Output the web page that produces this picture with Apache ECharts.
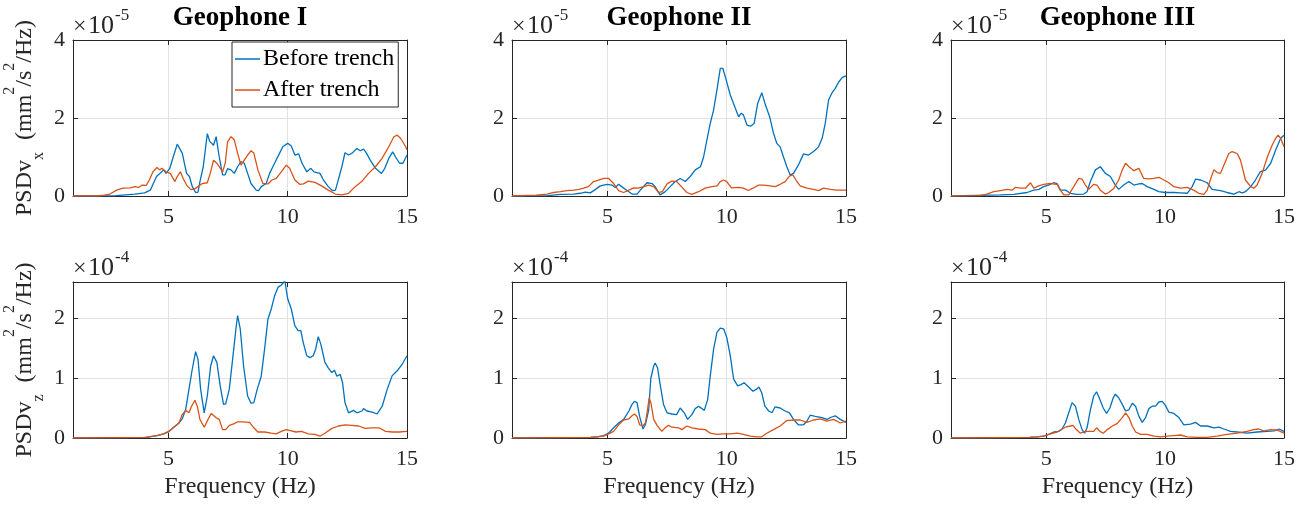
<!DOCTYPE html>
<html><head><meta charset="utf-8">
<script src="https://cdn.jsdelivr.net/npm/echarts@6/dist/echarts.min.js"></script>
<style>html,body{margin:0;padding:0;background:#fff}#c{width:1302px;height:507px}</style>
</head><body><div id="c"></div>
<script>
// ---------------- DATA ----------------
const titles = ['Geophone I', 'Geophone II', 'Geophone III'];
const seriesNames = ['Before trench', 'After trench'];
const xTicks = [5, 10, 15];
const xRange = [1, 15];
const yTicksTop = [0, 2, 4];
const yTicksBottom = [0, 1, 2];
const yMaxTop = 4;
const yMaxBottom = 2.6;
const exponentTop = '-5';
const exponentBottom = '-4';
const xLabel = 'Frequency (Hz)';

// PSDv_x (x 1e-5), [frequency Hz, value]
const g1xBefore = [[1,0],[2,0],[2.8,0.01],[3.2,0.03],[3.6,0.05],[4.0,0.08],[4.24,0.15],[4.5,0.5],[4.8,0.67],[4.9,0.58],[5.05,0.7],[5.2,1.0],[5.37,1.33],[5.45,1.32],[5.58,1.1],[5.76,0.58],[5.88,0.5],[6.0,0.24],[6.14,0.09],[6.24,0.1],[6.32,0.37],[6.46,0.75],[6.63,1.6],[6.73,1.4],[6.89,1.3],[7.0,1.52],[7.13,1.0],[7.27,0.54],[7.37,0.54],[7.48,0.7],[7.62,0.67],[7.76,0.58],[7.9,0.75],[8.04,0.88],[8.18,0.84],[8.32,0.58],[8.46,0.32],[8.68,0.15],[8.78,0.14],[8.89,0.24],[9.1,0.32],[9.24,0.58],[9.45,0.84],[9.66,1.1],[9.8,1.27],[10.0,1.35],[10.15,1.28],[10.3,1.05],[10.46,1.08],[10.6,0.84],[10.8,0.62],[10.97,0.71],[11.1,0.62],[11.35,0.58],[11.5,0.41],[11.7,0.24],[11.87,0.14],[12.0,0.15],[12.1,0.37],[12.27,0.75],[12.4,1.11],[12.55,1.05],[12.7,1.1],[12.9,1.22],[13.04,1.16],[13.18,1.2],[13.3,1.1],[13.46,0.92],[13.68,0.71],[13.93,0.58],[14.07,0.71],[14.24,0.97],[14.4,1.13],[14.52,1.0],[14.69,0.84],[14.83,0.84],[15,1.05]];
const g1xAfter = [[1,0],[2,0],[2.3,0.02],[2.55,0.05],[2.83,0.15],[3.1,0.2],[3.4,0.21],[3.6,0.24],[3.75,0.22],[3.9,0.28],[4.07,0.27],[4.2,0.41],[4.35,0.62],[4.52,0.73],[4.63,0.67],[4.73,0.71],[4.9,0.62],[5.08,0.58],[5.27,0.37],[5.37,0.5],[5.5,0.62],[5.62,0.45],[5.76,0.28],[5.93,0.17],[6.07,0.17],[6.24,0.24],[6.42,0.32],[6.63,0.34],[6.77,0.62],[6.89,0.92],[7.03,0.84],[7.13,0.75],[7.27,0.62],[7.38,0.84],[7.48,1.39],[7.62,1.52],[7.76,1.44],[7.9,1.1],[8.04,0.79],[8.18,0.92],[8.32,1.05],[8.46,1.16],[8.58,1.1],[8.75,0.67],[8.96,0.32],[9.17,0.31],[9.34,0.41],[9.52,0.45],[9.73,0.62],[9.94,0.79],[10.08,0.71],[10.3,0.41],[10.5,0.3],[10.66,0.31],[10.86,0.38],[11.14,0.35],[11.42,0.26],[11.7,0.15],[12.0,0.05],[12.27,0.03],[12.55,0.07],[12.83,0.24],[13.1,0.37],[13.39,0.58],[13.68,0.75],[13.96,0.97],[14.24,1.27],[14.45,1.52],[14.59,1.56],[14.73,1.48],[14.94,1.27],[15,1.18]];
const g2xBefore = [[1,0],[2.5,0.01],[3.03,0.04],[3.58,0.05],[3.86,0.07],[4.07,0.1],[4.28,0.08],[4.5,0.17],[4.7,0.26],[4.98,0.3],[5.19,0.28],[5.33,0.22],[5.47,0.3],[5.6,0.24],[5.82,0.14],[6.03,0.05],[6.24,0.05],[6.45,0.2],[6.66,0.34],[6.87,0.32],[7.0,0.24],[7.2,0.03],[7.4,0.1],[7.63,0.24],[7.84,0.37],[8.05,0.45],[8.26,0.37],[8.47,0.5],[8.68,0.67],[8.9,0.75],[9.03,1.0],[9.17,1.44],[9.31,1.86],[9.45,2.2],[9.6,2.76],[9.73,3.27],[9.84,3.27],[9.98,2.97],[10.15,2.59],[10.36,2.25],[10.5,2.03],[10.6,2.12],[10.7,2.08],[10.85,1.82],[11.0,1.79],[11.15,1.86],[11.3,2.38],[11.47,2.65],[11.6,2.38],[11.8,2.03],[11.96,1.61],[12.1,1.35],[12.24,1.26],[12.38,1.0],[12.52,0.75],[12.66,0.54],[12.8,0.58],[13.0,0.79],[13.22,1.08],[13.43,1.05],[13.64,1.14],[13.85,1.26],[14.0,1.48],[14.13,1.86],[14.27,2.46],[14.4,2.63],[14.55,2.76],[14.7,2.93],[14.85,3.04],[15,3.08]];
const g2xAfter = [[1,0],[2.0,0.02],[2.47,0.05],[2.75,0.09],[3.03,0.11],[3.3,0.14],[3.58,0.15],[3.8,0.17],[4.0,0.2],[4.2,0.24],[4.42,0.37],[4.63,0.41],[4.84,0.45],[5.05,0.45],[5.26,0.32],[5.47,0.14],[5.68,0.09],[5.9,0.15],[6.1,0.21],[6.3,0.2],[6.52,0.24],[6.73,0.28],[6.94,0.24],[7.15,0.09],[7.3,0.11],[7.5,0.31],[7.7,0.38],[7.9,0.37],[8.1,0.24],[8.33,0.09],[8.54,0.04],[8.82,0.11],[9.1,0.2],[9.38,0.24],[9.6,0.26],[9.73,0.37],[9.87,0.41],[10.0,0.37],[10.2,0.21],[10.5,0.22],[10.7,0.2],[10.9,0.14],[11.1,0.2],[11.33,0.28],[11.54,0.28],[11.82,0.26],[12.03,0.24],[12.24,0.3],[12.45,0.37],[12.63,0.51],[12.77,0.54],[12.9,0.41],[13.08,0.26],[13.36,0.2],[13.64,0.17],[13.85,0.14],[14.06,0.2],[14.34,0.17],[14.62,0.15],[15,0.15]];
const g3xBefore = [[1,0],[3.08,0.03],[3.64,0.04],[4.2,0.09],[4.48,0.15],[4.69,0.17],[4.9,0.24],[5.1,0.28],[5.32,0.34],[5.46,0.32],[5.6,0.15],[5.81,0.15],[6.02,0.07],[6.3,0.04],[6.58,0.05],[6.72,0.11],[6.86,0.37],[7.07,0.67],[7.28,0.75],[7.49,0.58],[7.7,0.5],[7.91,0.28],[8.05,0.17],[8.26,0.28],[8.48,0.37],[8.69,0.28],[8.9,0.31],[9.04,0.32],[9.25,0.24],[9.53,0.17],[9.74,0.11],[10.0,0.09],[10.37,0.09],[10.65,0.08],[10.93,0.07],[11.14,0.24],[11.28,0.43],[11.5,0.41],[11.77,0.34],[11.98,0.17],[12.33,0.14],[12.6,0.09],[12.9,0.05],[13.1,0.11],[13.24,0.08],[13.38,0.11],[13.6,0.24],[13.8,0.41],[14.0,0.62],[14.23,0.67],[14.44,0.84],[14.65,1.18],[14.86,1.48],[15,1.56]];
const g3xAfter = [[1,0],[2.2,0.01],[2.5,0.05],[2.8,0.11],[3.08,0.14],[3.36,0.17],[3.57,0.15],[3.7,0.22],[3.92,0.2],[4.13,0.2],[4.34,0.34],[4.48,0.2],[4.69,0.26],[4.9,0.3],[5.18,0.32],[5.46,0.3],[5.6,0.15],[5.74,0.03],[5.95,0.03],[6.16,0.24],[6.37,0.45],[6.51,0.43],[6.65,0.28],[6.79,0.17],[7.0,0.3],[7.14,0.28],[7.28,0.15],[7.49,0.05],[7.63,0.09],[7.85,0.2],[8.05,0.41],[8.2,0.67],[8.34,0.84],[8.48,0.75],[8.69,0.65],[8.9,0.71],[9.1,0.45],[9.32,0.44],[9.53,0.45],[9.74,0.48],[9.95,0.41],[10.16,0.34],[10.37,0.24],[10.65,0.2],[10.93,0.22],[11.2,0.15],[11.42,0.07],[11.63,0.04],[11.77,0.15],[11.9,0.41],[12.05,0.67],[12.19,0.6],[12.33,0.58],[12.47,0.79],[12.68,1.09],[12.82,1.14],[13.03,1.09],[13.17,0.92],[13.38,0.41],[13.6,0.24],[13.73,0.2],[13.87,0.28],[14.08,0.58],[14.3,1.0],[14.5,1.3],[14.65,1.48],[14.75,1.56],[14.86,1.48],[15,1.26]];

// PSDv_z (x 1e-4), [frequency Hz, value]
const g1zBefore = [[1,0],[4.1,0.01],[4.52,0.04],[4.8,0.07],[5.0,0.1],[5.2,0.17],[5.44,0.25],[5.58,0.32],[5.72,0.47],[5.86,0.81],[6.0,1.15],[6.14,1.44],[6.24,1.31],[6.35,0.81],[6.5,0.42],[6.63,0.7],[6.77,1.2],[6.89,1.37],[7.03,1.26],[7.17,0.87],[7.31,0.56],[7.4,0.57],[7.55,0.81],[7.69,1.31],[7.83,1.82],[7.9,2.04],[8.01,1.82],[8.15,1.2],[8.32,0.7],[8.46,0.58],[8.58,0.59],[8.72,0.81],[8.89,1.03],[9.03,1.48],[9.17,1.98],[9.31,2.15],[9.45,2.37],[9.59,2.51],[9.73,2.55],[9.88,2.62],[10.0,2.32],[10.15,2.15],[10.3,1.87],[10.44,1.79],[10.55,1.79],[10.65,1.59],[10.8,1.37],[10.93,1.34],[11.07,1.37],[11.17,1.48],[11.28,1.69],[11.39,1.56],[11.56,1.26],[11.7,1.17],[11.85,1.09],[11.96,1.13],[12.06,1.03],[12.2,1.06],[12.3,0.92],[12.4,0.59],[12.55,0.42],[12.76,0.46],[12.9,0.42],[13.11,0.45],[13.18,0.49],[13.32,0.45],[13.54,0.43],[13.75,0.4],[13.96,0.53],[14.17,0.81],[14.38,1.04],[14.59,1.12],[14.8,1.23],[15,1.37]];
const g1zAfter = [[1,0],[4.0,0.01],[4.52,0.04],[4.8,0.07],[5.0,0.11],[5.2,0.17],[5.44,0.25],[5.58,0.39],[5.72,0.46],[5.86,0.42],[5.97,0.53],[6.11,0.63],[6.21,0.53],[6.32,0.31],[6.5,0.18],[6.66,0.31],[6.8,0.41],[6.99,0.34],[7.13,0.31],[7.27,0.14],[7.4,0.14],[7.55,0.21],[7.76,0.24],[7.9,0.27],[8.11,0.27],[8.4,0.26],[8.58,0.17],[8.75,0.1],[9.03,0.1],[9.31,0.08],[9.52,0.07],[9.73,0.11],[9.94,0.14],[10.15,0.12],[10.35,0.1],[10.58,0.11],[10.86,0.07],[11.14,0.06],[11.35,0.03],[11.56,0.08],[11.85,0.16],[12.13,0.2],[12.41,0.22],[12.69,0.21],[12.97,0.2],[13.25,0.16],[13.54,0.17],[13.82,0.17],[14.1,0.11],[14.38,0.1],[14.66,0.1],[15,0.11]];
const g2zBefore = [[1,0],[4.3,0.01],[4.56,0.02],[4.84,0.04],[5.05,0.08],[5.26,0.17],[5.47,0.25],[5.68,0.31],[5.9,0.45],[6.03,0.56],[6.13,0.61],[6.24,0.59],[6.35,0.36],[6.49,0.15],[6.59,0.22],[6.73,0.47],[6.82,1.0],[6.94,1.2],[7.0,1.25],[7.1,1.17],[7.2,0.92],[7.35,0.56],[7.5,0.42],[7.7,0.4],[7.9,0.39],[8.05,0.5],[8.12,0.52],[8.22,0.42],[8.36,0.31],[8.54,0.39],[8.68,0.49],[8.82,0.53],[8.96,0.49],[9.06,0.46],[9.2,0.64],[9.31,1.03],[9.45,1.48],[9.59,1.76],[9.73,1.83],[9.87,1.82],[10.0,1.68],[10.15,1.37],[10.29,0.98],[10.46,0.87],[10.6,0.89],[10.73,0.92],[10.92,0.85],[11.1,0.78],[11.24,0.81],[11.35,0.85],[11.47,0.75],[11.6,0.53],[11.76,0.45],[11.9,0.42],[12.03,0.52],[12.24,0.5],[12.45,0.45],[12.63,0.42],[12.8,0.31],[13.0,0.22],[13.22,0.22],[13.36,0.28],[13.5,0.38],[13.71,0.36],[14.0,0.34],[14.2,0.31],[14.4,0.35],[14.55,0.37],[14.76,0.31],[15,0.26]];
const g2zAfter = [[1,0],[4.3,0.01],[4.56,0.02],[4.84,0.03],[5.05,0.07],[5.26,0.11],[5.47,0.22],[5.68,0.3],[5.9,0.32],[6.03,0.37],[6.13,0.4],[6.24,0.36],[6.35,0.22],[6.49,0.2],[6.59,0.25],[6.68,0.47],[6.75,0.67],[6.82,0.59],[6.94,0.31],[7.08,0.21],[7.28,0.11],[7.42,0.17],[7.56,0.21],[7.7,0.18],[7.98,0.17],[8.12,0.14],[8.33,0.2],[8.54,0.17],[8.82,0.15],[9.1,0.14],[9.31,0.08],[9.59,0.06],[9.87,0.07],[10.15,0.07],[10.43,0.08],[10.7,0.06],[10.99,0.03],[11.27,0.02],[11.47,0.02],[11.68,0.08],[11.96,0.14],[12.24,0.2],[12.52,0.29],[12.8,0.3],[13.08,0.3],[13.36,0.26],[13.64,0.3],[13.92,0.32],[14.2,0.28],[14.48,0.31],[14.76,0.25],[15,0.28]];
const g3zBefore = [[1,0],[4.3,0.01],[4.62,0.02],[4.9,0.03],[5.1,0.06],[5.32,0.1],[5.53,0.11],[5.67,0.15],[5.81,0.25],[5.95,0.42],[6.09,0.59],[6.23,0.53],[6.37,0.31],[6.51,0.14],[6.62,0.08],[6.72,0.17],[6.86,0.47],[7.0,0.7],[7.12,0.77],[7.26,0.64],[7.4,0.5],[7.54,0.41],[7.68,0.5],[7.82,0.67],[7.91,0.73],[8.05,0.67],[8.2,0.56],[8.34,0.45],[8.48,0.47],[8.62,0.58],[8.76,0.53],[8.9,0.36],[9.04,0.26],[9.18,0.34],[9.32,0.49],[9.46,0.53],[9.6,0.53],[9.74,0.6],[9.88,0.61],[10.02,0.54],[10.16,0.43],[10.37,0.41],[10.58,0.34],[10.79,0.22],[11.07,0.23],[11.28,0.26],[11.49,0.2],[11.77,0.2],[12.05,0.17],[12.26,0.18],[12.47,0.15],[12.75,0.11],[13.03,0.1],[13.45,0.08],[13.87,0.1],[14.3,0.11],[14.58,0.12],[14.79,0.15],[15,0.11]];
const g3zAfter = [[1,0],[4.3,0.01],[4.62,0.02],[4.9,0.03],[5.18,0.07],[5.46,0.1],[5.67,0.15],[5.81,0.18],[6.02,0.2],[6.13,0.21],[6.27,0.14],[6.44,0.08],[6.65,0.11],[6.86,0.11],[7.0,0.11],[7.12,0.17],[7.26,0.11],[7.4,0.08],[7.57,0.14],[7.78,0.2],[7.98,0.24],[8.2,0.34],[8.34,0.42],[8.48,0.34],[8.62,0.2],[8.76,0.1],[8.97,0.06],[9.25,0.06],[9.53,0.03],[9.81,0.02],[10.09,0.03],[10.37,0.04],[10.65,0.05],[10.93,0.02],[11.35,0.01],[11.77,0.01],[12.19,0.03],[12.6,0.06],[13.03,0.08],[13.45,0.11],[13.73,0.14],[13.94,0.15],[14.15,0.12],[14.44,0.14],[14.72,0.13],[15,0.08]];

// ---------------- LAYOUT / STYLE ----------------
const panels = [
  [g1xBefore, g1xAfter], [g2xBefore, g2xAfter], [g3xBefore, g3xAfter],
  [g1zBefore, g1zAfter], [g2zBefore, g2zAfter], [g3zBefore, g3zAfter]
];
const colors = ['#0072BD', '#D95319'];
const FONT = 'Liberation Serif';
const INK = '#262626';
const GRIDC = '#e2e2e2';
const colLeft = [73, 512, 951];
const colWidth = [334, 334, 333];
const rowTop = [40, 282];
const rowHeight = 156;

const grids = [], xAxes = [], yAxes = [], series = [], graphics = [];
for (let p = 0; p < 6; p++) {
  const r = Math.floor(p / 3), c = p % 3;
  grids.push({ left: colLeft[c], top: rowTop[r], width: colWidth[c], height: rowHeight, containLabel: false });
  const yTicks = r === 0 ? yTicksTop : yTicksBottom;
  const yMax = r === 0 ? yMaxTop : yMaxBottom;
  const xb = {
    type: 'value', gridIndex: p, min: xRange[0], max: xRange[1], position: 'bottom',
    axisLine: { show: true, onZero: false, lineStyle: { color: INK, width: 1 } },
    axisTick: { show: true, inside: true, length: 5, customValues: xTicks, lineStyle: { color: INK } },
    axisLabel: { show: true, customValues: xTicks, margin: 10, fontFamily: FONT, fontSize: 22, color: INK },
    splitLine: { show: true, lineStyle: { color: GRIDC, width: 1 } }
  };
  if (r === 1) {
    xb.name = xLabel; xb.nameLocation = 'middle'; xb.nameGap = 37;
    xb.nameTextStyle = { fontFamily: FONT, fontSize: 24, color: INK };
  }
  xAxes.push(xb);
  xAxes.push({
    type: 'value', gridIndex: p, min: xRange[0], max: xRange[1], position: 'top',
    axisLine: { show: true, onZero: false, lineStyle: { color: INK, width: 1 } },
    axisTick: { show: true, inside: true, length: 5, customValues: xTicks, lineStyle: { color: INK } },
    axisLabel: { show: false }, splitLine: { show: false }
  });
  const yl = {
    type: 'value', gridIndex: p, min: 0, max: yMax, position: 'left',
    axisLine: { show: true, onZero: false, lineStyle: { color: INK, width: 1 } },
    axisTick: { show: true, inside: true, length: 5, customValues: yTicks, lineStyle: { color: INK } },
    axisLabel: { show: true, customValues: yTicks, margin: 8, fontFamily: FONT, fontSize: 22, color: INK },
    splitLine: { show: true, lineStyle: { color: GRIDC, width: 1 } }
  };
  if (c === 0) {
    const comp = r === 0 ? 'x' : 'z';
    yl.name = '{m|PSDv}{sub|' + comp + '}{m|  (mm}{sup|2}{m|/s}{sup|2}{m|/Hz)}';
    yl.nameLocation = 'middle'; yl.nameRotate = 90; yl.nameGap = 26;
    yl.nameTextStyle = {
      fontFamily: FONT, fontSize: 24, color: INK,
      rich: {
        m: { fontFamily: FONT, fontSize: 24, color: INK, lineHeight: 45, verticalAlign: 'middle' },
        sub: { fontFamily: FONT, fontSize: 16, color: INK, lineHeight: 16, verticalAlign: 'bottom' },
        sup: { fontFamily: FONT, fontSize: 16, color: INK, lineHeight: 8, verticalAlign: 'top' }
      }
    };
  }
  yAxes.push(yl);
  yAxes.push({
    type: 'value', gridIndex: p, min: 0, max: yMax, position: 'right',
    axisLine: { show: true, onZero: false, lineStyle: { color: INK, width: 1 } },
    axisTick: { show: true, inside: true, length: 5, customValues: yTicks, lineStyle: { color: INK } },
    axisLabel: { show: false }, splitLine: { show: false }
  });
  panels[p].forEach((d, k) => {
    series.push({
      type: 'line', name: seriesNames[k], data: d, xAxisIndex: 2 * p, yAxisIndex: 2 * p,
      symbol: 'none', smooth: false, clip: true,
      lineStyle: { color: colors[k], width: 1.3 }, itemStyle: { color: colors[k] },
      z: 3
    });
  });
  // exponent label (x10^n)
  const exp = r === 0 ? exponentTop : exponentBottom;
  const gx = colLeft[c], gy = rowTop[r];
  graphics.push({ type: 'text', x: gx + 0, y: gy - 13, style: { text: '\u00d7', font: '24px "' + FONT + '"', fill: INK, align: 'left', verticalAlign: 'middle' } });
  graphics.push({ type: 'text', x: gx + 15, y: gy - 14, style: { text: '10', font: '26px "' + FONT + '"', fill: INK, align: 'left', verticalAlign: 'middle' } });
  graphics.push({ type: 'text', x: gx + 42, y: gy - 24, style: { text: exp, font: '17px "' + FONT + '"', fill: INK, align: 'left', verticalAlign: 'middle' } });
  if (r === 0) {
    graphics.push({ type: 'text', x: colLeft[c] + colWidth[c] / 2, y: 18, style: { text: titles[c], font: 'bold 27px "' + FONT + '"', fill: '#000', align: 'center', verticalAlign: 'middle' } });
  }
}

const option = {
  backgroundColor: '#fff',
  animation: false,
  grid: grids, xAxis: xAxes, yAxis: yAxes, series: series,
  legend: {
    data: seriesNames, orient: 'vertical', left: 232, top: 42,
    backgroundColor: '#fff', borderColor: INK, borderWidth: 1, borderRadius: 0,
    padding: [4, 4, 4, 3], itemGap: 5, itemWidth: 25, itemHeight: 1.5, icon: 'rect',
    textStyle: { fontFamily: FONT, fontSize: 24, color: '#000', padding: [0, 0, 0, -2], lineHeight: 26 },
    selectedMode: false
  },
  graphic: graphics
};
const chart = echarts.init(document.getElementById('c'), null, { renderer: 'canvas' });
chart.setOption(option);
</script></body></html>
